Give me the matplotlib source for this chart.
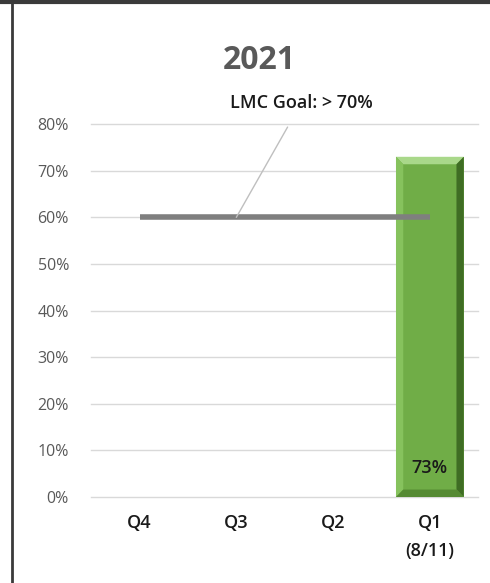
import matplotlib
matplotlib.use("Agg")
import matplotlib.pyplot as plt
from matplotlib.patches import Polygon
from matplotlib.lines import Line2D
from matplotlib import font_manager

# Data
categories = ["Q4", "Q3", "Q2", "Q1\n(8/11)"]
values = [None, None, None, 73]
goal_value = 60
goal_label = "LMC Goal: > 70%"
title = "2021"
yticks = [0, 10, 20, 30, 40, 50, 60, 70, 80]

available = {f.name for f in font_manager.fontManager.ttflist}
family = [f for f in ["Liberation Sans Narrow", "Open Sans", "DejaVu Sans"] if f in available]
plt.rcParams["font.family"] = family

fig = plt.figure(figsize=(4.9, 5.83), dpi=100)
ax = fig.add_axes([0.186, 0.1475, 0.79, 0.6395])

x = list(range(len(categories)))
bar_w = 0.70
for i, v in enumerate(values):
    if v is None:
        continue
    ax.bar(i, v, width=bar_w, color="#70ad47", zorder=3)
    # bevelled edges
    x0, x1 = i - bar_w / 2, i + bar_w / 2
    dx, dy = 0.075, 1.6
    ax.add_patch(Polygon([(x0, v), (x1, v), (x1 - dx, v - dy), (x0 + dx, v - dy)],
                         closed=True, color="#a9d88a", zorder=4, lw=0))
    ax.add_patch(Polygon([(x1, v), (x1, 0), (x1 - dx, dy), (x1 - dx, v - dy)],
                         closed=True, color="#3f6d24", zorder=4, lw=0))
    ax.add_patch(Polygon([(x0, v), (x0, 0), (x0 + dx, dy), (x0 + dx, v - dy)],
                         closed=True, color="#86c25d", zorder=4, lw=0))
    ax.add_patch(Polygon([(x0, 0), (x1, 0), (x1 - dx, dy), (x0 + dx, dy)],
                         closed=True, color="#558a33", zorder=4, lw=0))
    ax.text(i, 4.3, f"{v}%", ha="center", va="bottom", fontsize=13,
            fontweight="semibold", color="#1a1a1a", zorder=5)

# goal line
ax.plot([x[0], x[-1]], [goal_value, goal_value], color="#7f7f7f", lw=4,
        solid_capstyle="butt", zorder=5)
ax.annotate(goal_label, xy=(1, goal_value), xytext=(1.67, 84.5),
            ha="center", va="center", fontsize=13, fontweight="semibold",
            color="#1a1a1a",
            arrowprops=dict(arrowstyle="-", color="#bfbfbf", lw=1,
                            shrinkA=10, shrinkB=0),
            annotation_clip=False, zorder=6)

ax.set_xlim(-0.5, 3.5)
ax.set_ylim(0, 80)
ax.set_yticks(yticks)
ax.set_yticklabels([f"{t}%" for t in yticks], fontsize=11.5, color="#595959")
ax.set_xticks(x)
ax.set_xticklabels(categories, fontsize=13, fontweight="semibold",
                   color="#1a1a1a", linespacing=1.75)
ax.tick_params(axis="both", length=0)
ax.tick_params(axis="y", pad=16)
ax.tick_params(axis="x", pad=12)
for s in ax.spines.values():
    s.set_visible(False)
for t in yticks:
    ax.axhline(t, color="#d9d9d9", lw=1, zorder=0, clip_on=False)

fig.text(0.53, 0.897, title, ha="center", va="center", fontsize=23,
         fontweight="bold", color="#595959")

# frame edges
fig.add_artist(Line2D([0, 1], [0.996, 0.996], transform=fig.transFigure,
                      color="#3a3a3a", lw=3))
fig.add_artist(Line2D([0.025, 0.025], [0, 1], transform=fig.transFigure,
                      color="#3a3a3a", lw=2))

fig.savefig("out.png", dpi=100)
